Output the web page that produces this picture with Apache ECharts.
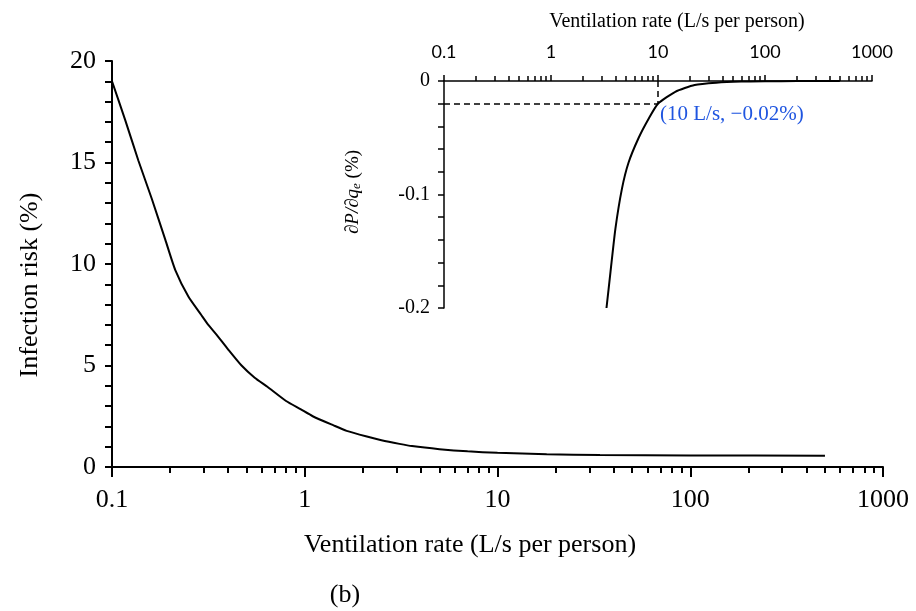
<!DOCTYPE html>
<html>
<head>
<meta charset="utf-8">
<script src="https://cdn.jsdelivr.net/npm/echarts@6/dist/echarts.min.js"></script>
<style>html,body{margin:0;padding:0;background:#fff}#c{width:916px;height:611px}</style>
</head>
<body>
<div id="c"></div>
<script>
// Main curve: ventilation rate (L/s per person) vs infection risk (%)
const mainQ = [0.1, 0.117, 0.137, 0.161, 0.189, 0.213, 0.249, 0.29, 0.316, 0.35, 0.4, 0.47, 0.55, 0.64, 0.8, 0.95, 1.1, 1.41, 1.65, 2.1, 2.5, 3.1, 3.6, 5, 7, 10, 18, 34, 100, 500];
const mainRisk = [19.0, 17.1, 15.1, 13.2, 11.2, 9.7, 8.4, 7.5, 7.0, 6.5, 5.8, 5.0, 4.4, 3.95, 3.25, 2.85, 2.5, 2.05, 1.78, 1.5, 1.32, 1.14, 1.03, 0.88, 0.77, 0.70, 0.63, 0.59, 0.57, 0.56];
// Inset: derivative dP/dq_e (%)
const insetQ = [3.3, 3.6, 4, 4.6, 5.3, 6.6, 8.2, 10, 14.5, 22, 35, 60, 100, 200, 500];
const insetDeriv = [-0.2, -0.168, -0.13, -0.095, -0.072, -0.05, -0.033, -0.02, -0.0095, -0.0035, -0.0015, -0.0005, -0.0002, -0.00005, 0];
// Annotated point
const markQ = 10;
const markD = -0.02;
// Ticks
const decadeTicks = [0.1, 1, 10, 100, 1000];
const minorTicksX = [0.2,0.3,0.4,0.5,0.6,0.7,0.8,0.9, 2,3,4,5,6,7,8,9, 20,30,40,50,60,70,80,90, 200,300,400,500,600,700,800,900];

const serif = 'Liberation Serif';
const black = '#000';

const chart = echarts.init(document.getElementById('c'), null, {renderer: 'canvas'});

function logAxis(gridIndex, opts) {
  return Object.assign({
    type: 'log', logBase: 10, min: 0.1, max: 1000, gridIndex: gridIndex,
    splitLine: {show: false}, minorTick: {show: false}, minorSplitLine: {show: false}
  }, opts);
}

const option = {
  animation: false,
  backgroundColor: '#fff',
  grid: [
    {left: 112, right: 33, top: 61, bottom: 144},
    {left: 444, right: 44, top: 81, bottom: 303}
  ],
  xAxis: [
    logAxis(0, {
      position: 'bottom',
      axisLine: {show: true, onZero: false, lineStyle: {color: black, width: 2}},
      axisTick: {show: true, length: 10, inside: false, lineStyle: {color: black, width: 2}, customValues: decadeTicks},
      axisLabel: {show: true, customValues: decadeTicks, fontFamily: serif, fontSize: 26, color: black, margin: 20,
        formatter: v => String(v)}
    }),
    logAxis(0, {
      position: 'bottom',
      axisLine: {show: false, onZero: false},
      axisTick: {show: true, length: 6, inside: false, lineStyle: {color: black, width: 2}, customValues: minorTicksX},
      axisLabel: {show: false}
    }),
    logAxis(1, {
      position: 'top',
      axisLine: {show: true, onZero: false, lineStyle: {color: black, width: 1.5}},
      axisTick: {show: true, length: 6, inside: false, lineStyle: {color: black, width: 1.5}, customValues: decadeTicks},
      axisLabel: {show: true, customValues: decadeTicks, fontFamily: 'Lato', fontSize: 18, color: black, margin: 20,
        formatter: v => String(v)}
    }),
    logAxis(1, {
      position: 'top',
      axisLine: {show: false, onZero: false},
      axisTick: {show: true, length: 5, inside: false, lineStyle: {color: black, width: 1.5}, customValues: minorTicksX},
      axisLabel: {show: false}
    })
  ],
  yAxis: [
    {
      type: 'value', gridIndex: 0, min: 0, max: 20, interval: 5,
      splitLine: {show: false},
      axisLine: {show: true, onZero: false, lineStyle: {color: black, width: 2}},
      axisTick: {show: true, length: 7, lineStyle: {color: black, width: 2}},
      minorTick: {show: true, splitNumber: 5, length: 7, lineStyle: {color: black, width: 2}},
      axisLabel: {fontFamily: serif, fontSize: 26, color: black, margin: 16}
    },
    {
      type: 'value', gridIndex: 1, min: -0.2, max: 0, interval: 0.1,
      splitLine: {show: false},
      axisLine: {show: true, onZero: false, lineStyle: {color: black, width: 1.5}},
      axisTick: {show: true, length: 6, lineStyle: {color: black, width: 1.5}},
      minorTick: {show: true, splitNumber: 5, length: 6, lineStyle: {color: black, width: 1.5}},
      axisLabel: {fontFamily: serif, fontSize: 20, color: black, margin: 14,
        formatter: v => (v === 0 ? '0' : String(Math.round(v * 10) / 10))}
    }
  ],
  series: [
    {
      type: 'line', xAxisIndex: 0, yAxisIndex: 0,
      data: mainQ.map((q, i) => [q, mainRisk[i]]),
      showSymbol: false, smooth: 0.2,
      lineStyle: {color: black, width: 2}
    },
    {
      type: 'line', xAxisIndex: 2, yAxisIndex: 1,
      data: insetQ.map((q, i) => [q, insetDeriv[i]]),
      showSymbol: false, smooth: 0.2,
      lineStyle: {color: black, width: 2},
      markLine: {
        silent: true, symbol: 'none', animation: false,
        label: {show: false},
        lineStyle: {color: black, width: 1.5, type: [6, 4]},
        data: [
          [{coord: [0.1, markD]}, {coord: [markQ, markD]}],
          [{coord: [markQ, 0]}, {coord: [markQ, markD]}]
        ]
      }
    }
  ],
  graphic: [
    {type: 'text', x: 30, y: 285, rotation: Math.PI / 2,
      style: {text: 'Infection risk (%)', font: '26px "Liberation Serif"', fill: black, align: 'center', verticalAlign: 'middle'}},
    {type: 'text', x: 470, y: 545,
      style: {text: 'Ventilation rate (L/s per person)', font: '26px "Liberation Serif"', fill: black, align: 'center', verticalAlign: 'middle'}},
    {type: 'text', x: 345, y: 595,
      style: {text: '(b)', font: '26px "Liberation Serif"', fill: black, align: 'center', verticalAlign: 'middle'}},
    {type: 'text', x: 677, y: 22,
      style: {text: 'Ventilation rate (L/s per person)', font: '20px "Liberation Serif"', fill: black, align: 'center', verticalAlign: 'middle'}},
    {type: 'text', x: 353, y: 192, rotation: Math.PI / 2,
      style: {
        text: '{i|∂P/∂q}{s|e} (%)',
        align: 'center', verticalAlign: 'middle', fill: black,
        font: '19px "Liberation Serif"',
        rich: {
          i: {fontFamily: serif, fontStyle: 'italic', fontSize: 19, fill: black},
          s: {fontFamily: serif, fontStyle: 'italic', fontSize: 13, fill: black, verticalAlign: 'bottom', padding: [8, 0, 0, 0]}
        }
      }},
    {type: 'text', x: 660, y: 114,
      style: {text: '(10 L/s, \u22120.02%)', font: '21px "Liberation Serif"', fill: '#1f55e0', align: 'left', verticalAlign: 'middle'}}
  ]
};
chart.setOption(option);
</script>
</body>
</html>
